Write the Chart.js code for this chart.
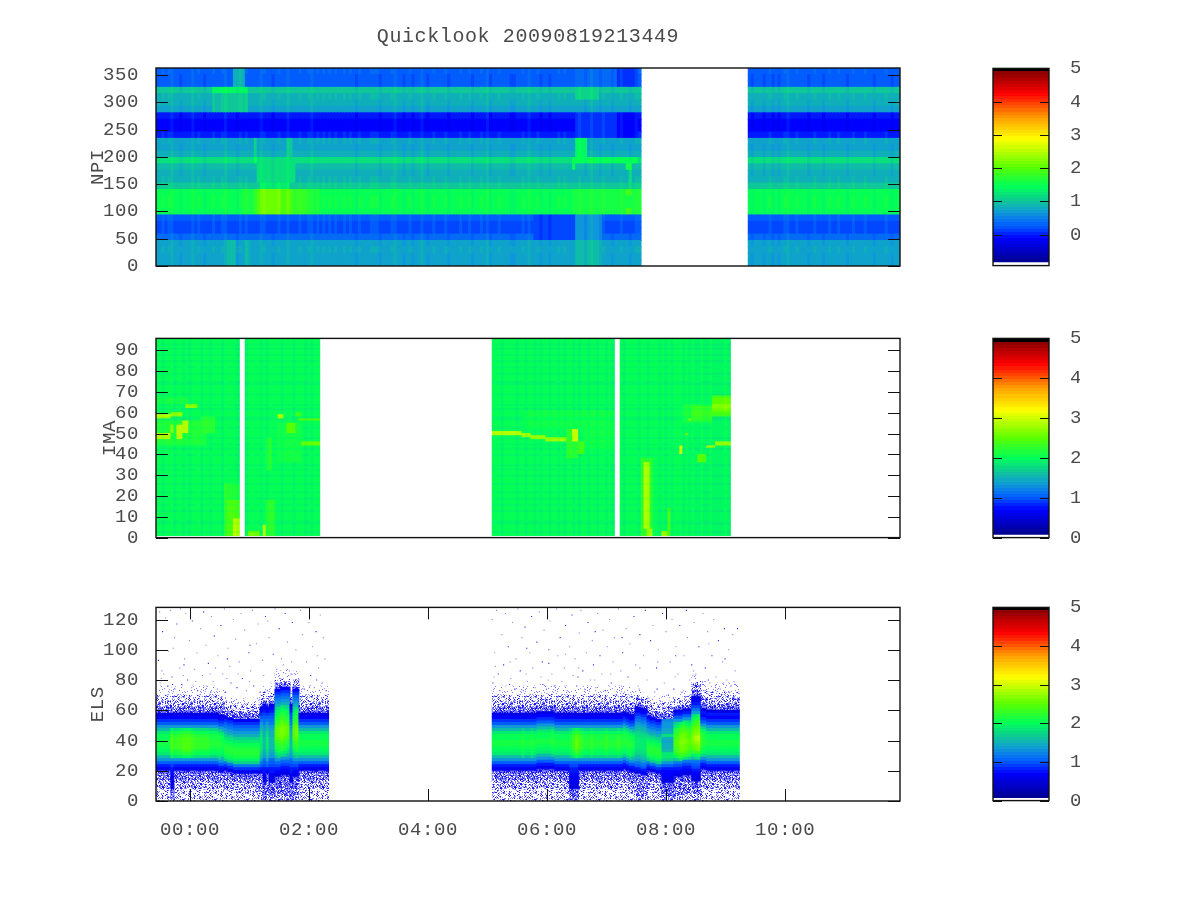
<!DOCTYPE html>
<html>
<head>
<meta charset="utf-8">
<title>Quicklook</title>
<script src="https://cdn.jsdelivr.net/npm/chart.js@4"></script>
<style>
  html, body { margin: 0; background: #fff; }
  #page { position: relative; width: 1200px; height: 900px; overflow: hidden; }
  #page canvas { position: absolute; }
</style>
</head>
<body>
<div id="page"></div>
<script>
// ---- axes
const titleText = 'Quicklook 20090819213449';
const timeTicks = [0, 2, 4, 6, 8, 10];
const timeLabels = ['00:00', '02:00', '04:00', '06:00', '08:00', '10:00'];
const timeRange = [-0.57, 11.93];
const binStart = -0.57, binHours = 0.05, binCount = 250;
const npiTicks = [0, 50, 100, 150, 200, 250, 300, 350];
const imaTicks = [0, 10, 20, 30, 40, 50, 60, 70, 80, 90];
const elsTicks = [0, 20, 40, 60, 80, 100, 120];
const barTicks = [0, 1, 2, 3, 4, 5];
const npiBarTicks = [0, 1, 2, 3, 4, 5];

// ---- colour scale: fraction of the range, r, g, b
const paletteStops = [
  [0, 0, 0, 130], [0.14, 0, 0, 255], [0.2, 0, 90, 255], [0.27, 15, 155, 215], [0.33, 15, 200, 150],
  [0.4, 0, 255, 90], [0.5, 90, 255, 0], [0.64, 255, 255, 0], [0.75, 255, 160, 0], [0.87, 255, 0, 0],
  [0.98, 140, 0, 0], [0.981, 0, 0, 0], [1, 0, 0, 0]
];

// ---- NPI: sectors from the bottom of the panel
const npiRowHeight = 11.7;
const npiRows = [0.68, 0.65, 0.7, 0.65, 0.3, 0.15, 0.15, 0.25, 1.4, 1.44, 1.44, 1.4, 1.0, 0.8, 0.75, 0.85, 1.15, 0.75, 0.68, 0.72,
  -0.05, -0.2, -0.2, -0.1, 0.68, 0.75, 0.8, 0.95, 0.2, 0.2, 0.25];
const npiBlocks = [[-0.57, 7.6], [9.37, 11.93]];
const npiStripes = '4454564434' + '4464543445' + '4456444354' + '5444465443' + '4544644454' + '4564545454' + '5445454354' + '4455534445'
  + '6443453446' + '4345444534' + '4454453445' + '4634454443' + '3445464453' + '4434454544' + '4454346443' + '5443445443'
  + '4554464346' + '4435464434' + '4443544433' + '4454454454' + '3444345343' + '4564454443' + '4544345445' + '4434544454' + '4344454344';
// [from h, to h, from y, to y, value]
const npiPatches = [
  [0.72, 0.92, 328, 363, 0.8], [0.39, 0.6, 281, 317, 0.88], [0.6, 1.0, 281, 317, 1.0], [0.39, 1.0, 317, 328, 1.3],
  [1.06, 1.14, 199, 234, 1.1], [1.06, 1.14, 187, 199, 1.4], [1.13, 1.8, 152, 187, 1.15], [1.63, 1.73, 199, 234, 1.0],
  [1.2, 1.7, 140, 152, 1.25], [0.9, 2.2, 94, 140, 1.55], [1.06, 1.97, 94, 140, 1.75], [1.15, 1.75, 94, 140, 1.95], [1.25, 1.55, 94, 140, 2.1],
  [0.62, 0.79, 0, 47, 0.85], [0.95, 1.05, 0, 47, 0.8],
  [5.8, 6.5, 47, 94, 0.08], [6.5, 7.3, 234, 281, 0.05], [6.5, 7.3, 328, 363, 0.3], [7.2, 7.55, 328, 363, 0.05], [7.2, 7.55, 234, 281, -0.15],
  [6.5, 6.67, 199, 234, 1.35], [6.44, 7.51, 187, 199, 1.4], [6.44, 6.5, 176, 187, 1.45], [7.34, 7.44, 176, 187, 1.55], [7.36, 7.42, 140, 176, 1.2],
  [6.44, 7.6, 94, 140, 1.55], [7.34, 7.44, 129, 140, 1.9], [7.34, 7.44, 94, 105, 1.9], [6.5, 6.86, 305, 328, 1.1],
  [6.5, 6.95, 47, 94, 0.55], [6.5, 6.95, 0, 47, 0.85]
];

// ---- IMA
const imaBase = 2.0;
const imaBlocks = [[-0.57, 0.84], [0.94, 2.17], [5.06, 7.14], [7.24, 9.06]];
const imaRowStripes = '4424442344' + '4424434424' + '4344424442' + '4434244443' + '4424344244' + '4434442244' + '4243444424' + '4442344424' + '4344244244' + '2424444424';
const imaColStripes = '4424452443' + '4244524434' + '4425444244' + '2454434254' + '4424443444' + '2434424424' + '4243444424' + '4424434424'
  + '4444444444' + '4444444444' + '4444444444' + '4444442444' + '4244344243' + '4424434244' + '3424434424' + '4342444244' + '4434424443' + '4243444243' + '4334224333'
  + '3434344342' + '4324434343' + '4344244443' + '4444444444' + '4444444444' + '4444444444';
const imaPatches = [
  [-0.55, 0.0, 64, 67, 2.12], [-0.55, 0.3, 44, 56, 2.18], [0.17, 0.45, 50, 58, 2.25],
  [-0.55, -0.34, 57, 59, 2.9], [-0.34, -0.12, 58, 60, 2.7], [-0.07, 0.13, 62, 64, 2.7],
  [-0.55, -0.34, 47, 50, 2.9], [-0.34, -0.28, 50, 54, 2.7], [-0.24, -0.14, 47, 54, 2.9], [-0.12, -0.02, 50, 56, 2.9],
  [0.6, 0.84, 1, 26, 2.2], [0.64, 0.81, 1, 18, 2.4], [0.71, 0.81, 1, 9, 2.9],
  [0.96, 1.18, 1, 3, 2.6], [1.21, 1.26, 1, 6, 2.9], [1.29, 1.43, 1, 18, 2.25],
  [1.29, 1.38, 32, 48, 2.2], [1.48, 1.9, 36, 55, 2.12], [1.63, 1.8, 50, 55, 2.5], [1.48, 1.6, 57, 59, 2.9], [1.78, 1.87, 58, 60, 2.35],
  [1.82, 2.17, 56, 57, 2.6], [1.9, 2.17, 44, 46, 2.6],
  [5.63, 7.11, 52, 61, 2.1], [6.64, 7.11, 42, 54, 2.1],
  [5.06, 5.6, 49, 51, 2.9], [5.6, 5.71, 48, 50, 2.8], [5.71, 6.0, 47, 49, 2.8], [6.0, 6.35, 46, 48, 2.8], [6.35, 6.55, 38, 52, 2.25], [6.42, 6.55, 46, 52, 3.0], [6.52, 6.64, 40, 46, 2.4],
  [7.6, 7.78, 1, 38, 2.25], [7.65, 7.73, 4, 36, 2.9], [7.67, 7.7, 6, 20, 3.1], [7.7, 7.76, 1, 4, 2.8], [7.93, 8.02, 1, 3, 2.8], [8.03, 8.1, 1, 14, 2.4],
  [8.12, 8.15, 25, 29, 3.0], [8.17, 8.2, 29, 36, 3.0], [8.22, 8.27, 40, 44, 3.0],
  [8.3, 8.77, 55, 64, 2.15], [8.44, 8.77, 56, 63, 2.35], [8.77, 9.06, 58, 68, 2.4], [8.77, 9.06, 60, 67, 2.55], [8.77, 9.06, 61, 64, 2.7], [8.39, 8.42, 56, 57, 2.8], [8.32, 8.37, 49, 50, 2.6],
  [8.54, 8.66, 36, 40, 2.5], [8.66, 8.82, 43, 44, 2.8], [8.82, 9.06, 44, 46, 2.8]
];

// ---- ELS: typical vertical profiles, 2 counts per row from the bottom.
// values below 0.5 are speckle density, the rest are colour values
const elsProfileA = [.2, .2, .2, .2, .3, .3, .3, .4, .4, .45, .65, .8, 1.0, 1.3, 1.6, 1.85, 1.95, 2.05, 2.1, 2.1, 2.05, 2.0, 1.85, 1.6, 1.3, 1.05, .85, .7, .55, .45, .4, .3, .3, .2, .2, .1, .1, .1];
const elsProfileB = [.2, .2, .2, .3, .3, .3, .4, .4, .45, .65, .85, 1.2, 1.7, 1.95, 2.1, 2.15, 2.15, 2.1, 2.0, 1.9, 1.75, 1.5, 1.3, 1.15, 1.0, .85, .65, .45, .4, .3, .2, .2, .1, .1];
const elsProfileC = [.3, .3, .4, .4, .4, .45, .45, .45, .55, .7, .8, .9, 1.1, 1.3, 1.5, 1.7, 1.9, 2.0, 2.1, 2.2, 2.3, 2.4, 2.4, 2.4, 2.3, 2.2, 2.1, 2.0, 1.9, 1.8, 1.6, 1.45, 1.3, 1.15, 1.0, .85, .7, .45, .3, .2, .1, .1, .1];
const elsProfileD = [.4, .4, .45, .45, .45, .45, .55, .55, .6, .75, .8, .9, 1.0, 1.1, 1.3, 1.4, 1.5, 1.6, 1.6, 1.6, 1.6, 1.5, 1.5, 1.4, 1.3, 1.2, 1.1, 1.0, .9, .8, .7, .55, .45, .3, .2, .2, .1, .1];
const elsProfileE = [.4, .45, .45, .45, .55, .55, .6, .6, .7, .75, .8, .9, 1.0, 1.3, 1.6, 1.85, 1.95, 2.05, 2.1, 2.1, 2.05, 2.0, 1.85, 1.6, 1.3, 1.05, .85, .7, .55, .45, .4, .3, .3, .2, .2, .1, .1];
const elsProfileF = [.3, .3, .3, .4, .4, .4, .4, .45, .45, .6, .8, 1.0, 1.2, 1.4, 1.6, 1.7, 1.8, 1.85, 1.9, 1.9, 1.85, 1.8, 1.7, 1.6, 1.45, 1.3, 1.15, 1.0, .85, .7, .55, .45, .3, .3, .2, .1, .1];
const elsProfileG = [.3, .3, .4, .4, .4, .4, .45, .45, .55, .7, .8, .95, 1.15, 1.5, 1.9, 2.1, 2.2, 2.25, 2.3, 2.3, 2.25, 2.2, 2.1, 2.0, 1.8, 1.6, 1.3, 1.05, .8, .55, .45, .3, .2, .2, .1, .1];
const elsProfileP = [.3, .3, .4, .4, .45, .45, .55, .6, .7, .8, .9, 1.0, 1.2, 1.5, 1.8, 2.1, 2.3, 2.4, 2.5, 2.6, 2.6, 2.5, 2.4, 2.3, 2.2, 2.05, 1.9, 1.7, 1.4, 1.15, .95, .8, .7, .55, .45, .4, .3, .3, .2, .1, .1];
const elsProfileT = [.3, .4, .4, .45, .45, .45, .55, .6, .7, .7, .8, 1.0, 1.3, 1.7, 1.9, 1.9, 1.6, 1.5, 1.45, 1.4, 1.5, 1.8, 1.5, 1.4, 1.35, 1.3, 1.25, .45, .4, .3, .3, .2, .2, .1, .1];
const elsProfileU = [.2, .2, .2, .2, .3, .3, .3, .4, .4, .45, .65, .8, 1.0, 1.3, 1.6, 1.85, 1.95, 2.05, 2.1, 2.1, 2.05, 2.0, 1.85, 1.6, 1.3, 1.05, .85, .7, .75, .55, .45, .4, .3, .3, .2, .2, .1, .1, .1];
const elsColumnsFirst = 'AAAAAE' + 'AAAAAAAAAAAAAAAAA' + 'BBBBBBBBBBBB' + 'FDFD' + 'DCCCCCDCC' + 'AAAAAAAAAA';
const elsBoostFirst = '000004' + '23344432222211110' + '000000000000' + '0000' + '012321012' + '0000000000';
const elsShiftFirst = '111111' + '11111111111111100' + '322111111111' + '1111' + '111222111' + '1111111111';
const elsColumnsSecond = 'AAAAAAAAAAAAAAAAAAAAAAAAAA' + 'EEEAA' + 'AAAAAAAAAAAAAAAAA' + 'FFFF' + 'BBBBB' + 'TTTT' + 'GGGGGG' + 'PPP' + 'UUUUUUUUUUUUU';
const elsBoostSecond = '00000000001001000000100000' + '13532' + '11211112111211110' + '0000' + '00000' + '0000' + '124432' + '123' + '2100000000000';
const elsShiftSecond = '11111111111111122222211111' + '11111' + '11111111111112100' + '1100' + '32211' + '1111' + '111222' + '222' + '2211111111111';
const elsFirstColumn = 0, elsSecondColumn = 113, elsTopCount = 90;
// lone counts above the main population: [hour, count]
const elsDots = [
  [-.53, 93], [-.51, 125], [-.5, 78], [-.46, 112], [-.44, 84], [-.41, 121], [-.37, 76], [-.36, 99], [-.33, 126], [-.3, 82], [-.26, 108], [-.25, 74], [-.22, 117], [-.17, 88],
  [-.16, 127], [-.14, 77], [-.09, 94], [-.07, 124], [-.04, 80], [-.01, 106], [.03, 75], [.04, 119], [.08, 87], [.12, 98], [.13, 73], [.18, 114], [.21, 83], [.23, 125],
  [.27, 103], [.28, 76], [.31, 91], [.36, 122], [.39, 79], [.41, 109], [.46, 74], [.47, 96], [.52, 116], [.55, 84], [.58, 127], [.6, 72], [.64, 101], [.67, 89],
  [.69, 78], [.73, 120], [.77, 107], [.79, 75], [.83, 92], [.86, 124], [.88, 81], [.92, 113], [.95, 73], [.99, 98], [1.02, 86], [1.05, 126], [1.07, 76], [1.12, 104],
  [1.15, 117], [1.18, 72], [1.22, 93], [1.24, 83], [1.27, 122], [1.33, 108], [1.36, 78], [1.4, 97], [1.43, 127], [1.46, 87], [1.5, 114], [1.54, 94], [1.57, 90], [1.6, 124],
  [1.64, 105], [1.67, 86], [1.72, 118], [1.75, 76], [1.78, 100], [1.83, 80], [1.86, 126], [1.89, 110], [1.92, 74], [1.96, 92], [2.0, 118], [2.03, 83], [2.06, 102], [2.09, 75],
  [2.12, 112], [2.16, 88], [2.19, 123], [2.22, 78], [2.24, 108], [2.27, 94], [2.29, 73],
  [-.48, 81], [-.47, 86], [-.29, 77], [-.28, 101], [-.11, 83], [-.1, 90], [.1, 79], [.34, 84], [.35, 72], [.43, 88], [.62, 81], [.63, 94], [.81, 84], [1.0, 79], [1.01, 103], [1.3, 73], [1.31, 119], [1.7, 84], [1.71, 92], [2.01, 76], [2.13, 80], [2.14, 96],
  [5.08, 120], [5.09, 78], [5.12, 98], [5.15, 126], [5.18, 84], [5.21, 73], [5.24, 110], [5.27, 90], [5.3, 124], [5.31, 76], [5.35, 102], [5.39, 81], [5.42, 118], [5.46, 74],
  [5.48, 94], [5.51, 127], [5.55, 86], [5.58, 108], [5.6, 73], [5.63, 115], [5.67, 79], [5.71, 98], [5.74, 122], [5.76, 88], [5.8, 75], [5.83, 105], [5.87, 125], [5.9, 82],
  [5.92, 92], [5.95, 113], [5.99, 74], [6.03, 100], [6.05, 119], [6.08, 84], [6.12, 76], [6.16, 127], [6.18, 96], [6.22, 108], [6.25, 79], [6.29, 88], [6.31, 116], [6.34, 73],
  [6.38, 102], [6.42, 123], [6.44, 83], [6.47, 94], [6.5, 76], [6.54, 111], [6.57, 126], [6.6, 86], [6.63, 74], [6.66, 98], [6.69, 118], [6.73, 80], [6.76, 106], [6.78, 90],
  [6.82, 75], [6.85, 124], [6.89, 96], [6.92, 84], [6.94, 113], [6.98, 73], [7.01, 102], [7.05, 120], [7.08, 78], [7.11, 92], [7.13, 108], [7.17, 70], [7.2, 127], [7.24, 86],
  [7.27, 98], [7.3, 72], [7.33, 114], [7.36, 82], [7.39, 104], [7.43, 69], [7.46, 122], [7.49, 90], [7.53, 76], [7.56, 110], [7.59, 67], [7.62, 96], [7.65, 126], [7.68, 80],
  [7.71, 68], [7.74, 106], [7.78, 116], [7.81, 72], [7.84, 88], [7.87, 100], [7.91, 66], [7.94, 124], [7.97, 78], [8.0, 112], [8.04, 70], [8.07, 92], [8.1, 120], [8.13, 74],
  [8.17, 102], [8.2, 84], [8.23, 116], [8.27, 72], [8.3, 96], [8.34, 126], [8.36, 108], [8.4, 80], [8.43, 90], [8.47, 118], [8.5, 84], [8.55, 102], [8.58, 76], [8.62, 124],
  [8.66, 88], [8.7, 112], [8.73, 78], [8.77, 96], [8.8, 120], [8.84, 82], [8.88, 106], [8.91, 74], [8.95, 92], [8.98, 114], [9.02, 80], [9.05, 100], [9.09, 76], [9.12, 110], [9.16, 86], [9.2, 114],
  [5.11, 82], [5.13, 89], [5.37, 77], [5.38, 92], [5.65, 84], [5.66, 101], [5.89, 77], [6.02, 80], [6.03, 91], [6.3, 76], [6.31, 97], [6.52, 82], [6.53, 88], [6.8, 80], [6.81, 112], [7.07, 84], [7.25, 76], [7.26, 108], [7.55, 74], [7.56, 88], [7.85, 74], [7.86, 92], [8.15, 82], [8.16, 96], [8.45, 83], [8.46, 86], [8.71, 80], [8.72, 104], [8.97, 78], [8.99, 94], [9.14, 79]
];

// stipple tile for the thin parts of the ELS population, each digit is the density where that pixel switches on
const stippleTile = [
  '3141592653584197', '9716939937510582', '0974944592307816', '4062862089986280',
  '3482534211706798', '2148086513282306', '4709384460955058', '2231725359408128',
  '4811174502841027', '0193852110555964', '4622948954930381', '9644288109756659',
  '3344612847564823', '3786783165271201', '9091456485669234', '6034861045432664'
];
const stippleLevels = { 0.1: 1, 0.2: 3, 0.3: 5, 0.4: 7, 0.45: 9 };

const CELL_FONT = { family: "'Liberation Mono', monospace", size: 19 };
const INK = '#4a4a4a';

function paletteAt(frac) {
  const f = Math.max(0, Math.min(1, frac));
  for (let i = 1; i < paletteStops.length; i++) {
    const a = paletteStops[i - 1], b = paletteStops[i];
    if (f <= b[0]) {
      const t = (f - a[0]) / (b[0] - a[0]);
      return `rgb(${Math.round(a[1] + (b[1] - a[1]) * t)},${Math.round(a[2] + (b[2] - a[2]) * t)},${Math.round(a[3] + (b[3] - a[3]) * t)})`;
    }
  }
  return 'rgb(0,0,0)';
}

// the palette has visible steps, so snap to them
function colourFor(v, lo, hi) {
  return paletteAt(Math.round((v - lo) / (hi - lo) * 64) / 64);
}

function binCentre(i) {
  return +(binStart + binHours * (i + 0.5)).toFixed(3);
}

function inBlocks(t, blocks) {
  return blocks.some(b => t >= b[0] && t < b[1]);
}

function patchValue(t, y, patches) {
  let v = null;
  patches.forEach(p => { if (t >= p[0] && t < p[1] && y >= p[2] && y < p[3]) v = p[4]; });
  return v;
}

function stripe(str, i, weight) {
  const c = str[i];
  return c === undefined ? 0 : (+c - 4) * weight;
}

function rowDataset(cells) {
  return {
    type: 'bar', grouped: false, barPercentage: 1, categoryPercentage: 1, inflateAmount: 0.45, borderWidth: 0,
    data: cells.map(c => ({ x: c.x, y: [c.y0, c.y1] })),
    backgroundColor: cells.map(c => c.color)
  };
}

function npiDatasets() {
  return npiRows.map((base, r) => {
    const y0 = r * npiRowHeight, y1 = (r + 1) * npiRowHeight, cells = [];
    for (let i = 0; i < binCount; i++) {
      const t = binCentre(i);
      if (!inBlocks(t, npiBlocks)) continue;
      const patched = patchValue(t, y0 + npiRowHeight / 2, npiPatches);
      const v = (patched === null ? base : patched) + stripe(npiStripes, i, 0.05);
      cells.push({ x: t, y0, y1, color: colourFor(v, -1, 5) });
    }
    return rowDataset(cells);
  });
}

function imaDatasets() {
  const out = [];
  for (let r = 1; r < 96; r++) {
    const cells = [];
    for (let i = 0; i < binCount; i++) {
      const t = binCentre(i);
      if (!inBlocks(t, imaBlocks)) continue;
      const patched = patchValue(t, r + 0.5, imaPatches);
      const v = (patched === null ? imaBase : patched) + stripe(imaColStripes, i, 0.035) + stripe(imaRowStripes, r, 0.035);
      cells.push({ x: t, y0: r, y1: r + 1, color: colourFor(v, 0, 5) });
    }
    out.push(rowDataset(cells));
  }
  return out;
}

// the tile is laid out four times, turned, so that the repeat is harder to see
function makeStipple(level) {
  const c = document.createElement('canvas');
  c.width = c.height = 32;
  const g = c.getContext('2d');
  const dot = (x, y, d) => {
    if (+d < level) {
      g.fillStyle = +d % 2 ? 'rgba(20,20,235,0.95)' : 'rgba(90,90,255,0.6)';
      g.fillRect(x, y, 1, 1);
    }
  };
  stippleTile.forEach((row, y) => {
    for (let x = 0; x < 16; x++) {
      dot(x, y, row[x]);
      dot(16 + y, x, row[x]);
      dot(31 - x, 16 + y, row[x]);
      dot(15 - y, 31 - x, row[x]);
    }
  });
  return g.createPattern(c, 'repeat');
}

function elsDatasets() {
  const profiles = { A: elsProfileA, B: elsProfileB, C: elsProfileC, D: elsProfileD, E: elsProfileE, F: elsProfileF, G: elsProfileG, P: elsProfileP, T: elsProfileT, U: elsProfileU };
  const stipples = {};
  Object.keys(stippleLevels).forEach(k => { stipples[k] = makeStipple(stippleLevels[k]); });
  const out = [];
  for (let y = 0; y < elsTopCount; y++) {
    const cells = [];
    const addColumns = (cols, boost, shift, start) => {
      for (let j = 0; j < cols.length; j++) {
        const v = profiles[cols[j]][Math.max(0, Math.floor((y - (+shift[j] - 1)) / 2))];
        if (v === undefined) continue;
        const color = v < 0.5 ? stipples[v] : colourFor(v >= 1.5 ? v + (+boost[j] || 0) * 0.09 : v, 0, 5);
        cells.push({ x: binCentre(start + j), y0: y, y1: y + 1, color });
      }
    };
    addColumns(elsColumnsFirst, elsBoostFirst, elsShiftFirst, elsFirstColumn);
    addColumns(elsColumnsSecond, elsBoostSecond, elsShiftSecond, elsSecondColumn);
    out.push(rowDataset(cells));
  }
  out.push({
    type: 'scatter', showLine: false, pointStyle: 'rect', pointRadius: 0.8, pointBorderWidth: 0,
    pointBackgroundColor: ctx => (ctx.dataIndex % 3 ? '#8c8cff' : '#3030f0'),
    data: elsDots.map(d => ({ x: d[0], y: d[1] }))
  });
  return out;
}

// gnuplot style box: ticks point inwards on both sides
const framePlugin = {
  id: 'frame',
  beforeDraw(chart) {
    chart.ctx.letterSpacing = chart.options.plugins.frame.spacing;
  },
  afterDraw(chart, args, opts) {
    const { ctx, chartArea: a, scales } = chart;
    ctx.save();
    ctx.letterSpacing = '0px';
    ctx.strokeStyle = '#111';
    ctx.lineWidth = 1;
    ctx.beginPath();
    scales.y.ticks.forEach(t => {
      const y = Math.round(scales.y.getPixelForValue(t.value)) + 0.5;
      ctx.moveTo(a.left, y); ctx.lineTo(a.left + opts.tick, y);
      ctx.moveTo(a.right, y); ctx.lineTo(a.right - opts.tick, y);
    });
    if (opts.timeTicks) {
      scales.x.ticks.forEach(t => {
        const x = Math.round(scales.x.getPixelForValue(t.value)) + 0.5;
        ctx.moveTo(x, a.top); ctx.lineTo(x, a.top + opts.tick);
        ctx.moveTo(x, a.bottom); ctx.lineTo(x, a.bottom - opts.tick);
      });
    }
    ctx.stroke();
    ctx.lineWidth = 1.4;
    ctx.strokeRect(a.left, a.top, a.right - a.left, a.bottom - a.top);
    ctx.restore();
  }
};

function addCanvas(left, top, width, height) {
  const c = document.createElement('canvas');
  c.style.left = left + 'px';
  c.style.top = top + 'px';
  c.style.width = width + 'px';
  c.style.height = height + 'px';
  c.width = width;
  c.height = height;
  document.getElementById('page').appendChild(c);
  return c;
}

function panel({ top, height, areaTop, areaBottom, label, labelLeft, ticks, yMax, datasets, showTime, withTitle }) {
  const canvas = addCanvas(0, top, 1056, height);
  new Chart(canvas, {
    type: 'bar',
    data: { datasets },
    plugins: [framePlugin],
    options: {
      responsive: false, animation: false, events: [],
      layout: { autoPadding: false, padding: { left: 0, right: 156, top: withTitle ? 0 : areaTop - top, bottom: showTime ? 0 : top + height - areaBottom } },
      plugins: {
        legend: { display: false }, tooltip: { enabled: false },
        frame: { tick: 12, timeTicks: showTime, spacing: '0.6px' },
        title: {
          display: !!withTitle, text: titleText, color: INK, fullSize: false, font: { ...CELL_FONT, size: 20, weight: 'normal' },
          padding: { top: 25, bottom: 19 }
        }
      },
      scales: {
        x: {
          type: 'linear', offset: false, display: !!showTime, min: timeRange[0], max: timeRange[1],
          border: { display: false }, grid: { display: false, offset: false },
          afterBuildTicks: s => { s.ticks = timeTicks.map(v => ({ value: v })); },
          afterFit: s => { if (showTime) s.height = top + height - areaBottom; },
          ticks: {
            color: INK, font: CELL_FONT, padding: 10, autoSkip: false, maxRotation: 0,
            callback: v => timeLabels[timeTicks.indexOf(v)]
          }
        },
        y: {
          type: 'linear', min: 0, max: yMax,
          border: { display: false }, grid: { display: false },
          afterBuildTicks: s => { s.ticks = ticks.map(v => ({ value: v })); },
          afterFit: s => { s.width = 156; },
          ticks: { color: INK, font: CELL_FONT, padding: 9, autoSkip: false },
          title: { display: true, text: label, color: INK, font: CELL_FONT, padding: { top: labelLeft - 11, bottom: 0 } }
        }
      }
    }
  });
}

function colourBar({ areaTop, areaBottom, lo, bottomValue, ticks }) {
  // chart.js keeps 24px above and below this box whatever the padding says
  const canvas = addCanvas(960, areaTop - 24, 120, areaBottom - areaTop + 48);
  new Chart(canvas, {
    type: 'bar',
    data: {
      labels: [''],
      datasets: [{
        data: [[bottomValue, 5]], barPercentage: 1, categoryPercentage: 1, borderWidth: 0, inflateAmount: 0,
        backgroundColor: ctx => {
          const s = ctx.chart.scales.y;
          if (!ctx.chart.chartArea || !s) return '#0f0';
          const py0 = s.getPixelForValue(5), py1 = s.getPixelForValue(lo);
          const g = ctx.chart.ctx.createLinearGradient(0, py0, 0, py1);
          for (let k = 0; k < 64; k++) {
            const col = paletteAt(1 - (k + 0.5) / 64);
            g.addColorStop(k / 64, col);
            g.addColorStop((k + 1) / 64, col);
          }
          return g;
        }
      }]
    },
    plugins: [framePlugin],
    options: {
      responsive: false, animation: false, events: [],
      layout: { autoPadding: false, padding: { left: 33, right: 0, top: 16, bottom: 16 } },
      plugins: { legend: { display: false }, tooltip: { enabled: false }, frame: { tick: 9, timeTicks: false, spacing: '0.6px' } },
      scales: {
        x: { display: false },
        y: {
          position: 'right', min: lo, max: 5,
          border: { display: false }, grid: { display: false },
          afterBuildTicks: s => { s.ticks = ticks.map(v => ({ value: v })); },
          afterFit: s => { s.width = 31; },
          ticks: { color: INK, font: CELL_FONT, padding: 13, autoSkip: false }
        }
      }
    }
  });
}

panel({ top: 0, height: 290, areaTop: 68, areaBottom: 266, label: 'NPI', labelLeft: 98, ticks: npiTicks, yMax: 363, datasets: npiDatasets(), withTitle: true });
panel({ top: 318, height: 240, areaTop: 338, areaBottom: 538, label: 'IMA', labelLeft: 110, ticks: imaTicks, yMax: 95.7, datasets: imaDatasets() });
panel({ top: 587, height: 313, areaTop: 607, areaBottom: 801, label: 'ELS', labelLeft: 98, ticks: elsTicks, yMax: 128, datasets: elsDatasets(), showTime: true });

colourBar({ areaTop: 68, areaBottom: 266, lo: -0.93, bottomValue: -0.83, ticks: npiBarTicks });
colourBar({ areaTop: 338, areaBottom: 538, lo: 0, bottomValue: 0.07, ticks: barTicks });
colourBar({ areaTop: 607, areaBottom: 801, lo: 0, bottomValue: 0.07, ticks: barTicks });
</script>
</body>
</html>
